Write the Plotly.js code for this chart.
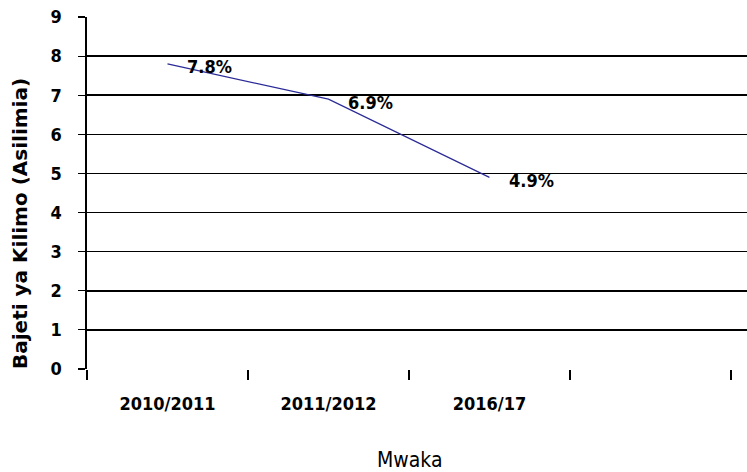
<!DOCTYPE html>
<html>
<head>
<meta charset="utf-8">
<script src="https://cdn.plot.ly/plotly-3.0.1.min.js"></script>
<style>html,body{margin:0;padding:0;background:#fff;}#chart{width:747px;height:472px;}</style>
</head>
<body>
<div id="chart"></div>
<script>
var categories = ["2010/2011", "2011/2012", "2016/17", " "];
var years = ["2010/2011", "2011/2012", "2016/17"];
var budgetShare = [7.8, 6.9, 4.9];
var pointLabels = ["7.8%", "6.9%", "4.9%"];
var yTicks = [0, 1, 2, 3, 4, 5, 6, 7, 8, 9];
var xTitle = "Mwaka";
var yTitle = "Bajeti ya Kilimo (Asilimia)";

var FONT = "DejaVu Sans Condensed, DejaVu Sans, sans-serif";
var WIDE = "DejaVu Sans, sans-serif";

var trace = {
  x: years,
  y: budgetShare,
  type: "scatter",
  mode: "lines",
  line: {color: "#2a2a96", width: 1.2},
  hoverinfo: "skip",
  showlegend: false
};

var annotations = years.map(function (yr, i) {
  return {
    x: yr, y: budgetShare[i], xref: "x", yref: "y",
    text: "<b>" + pointLabels[i] + "</b>",
    showarrow: false, xanchor: "left", yanchor: "middle",
    xshift: 18, yshift: -3,
    font: {family: FONT, size: 18, color: "#000"}
  };
});

annotations.push({
  xref: "paper", yref: "paper", x: 0, y: 0.412, xshift: -67,
  text: "<b>" + yTitle + "</b>", textangle: -90,
  showarrow: false, xanchor: "center", yanchor: "middle",
  font: {family: WIDE, size: 20, color: "#000"}
});
annotations.push({
  xref: "paper", yref: "paper", x: 0.489, y: 0, yshift: -91,
  text: xTitle,
  showarrow: false, xanchor: "center", yanchor: "middle",
  font: {family: FONT, size: 21, color: "#000"}
});

var layout = {
  width: 747, height: 472,
  margin: {l: 87, r: 0, t: 17, b: 103},
  paper_bgcolor: "#fff", plot_bgcolor: "#fff",
  font: {family: FONT, color: "#000"},
  xaxis: {
    type: "category",
    categoryorder: "array",
    categoryarray: categories,
    range: [-0.5, 3.6],
    tickson: "boundaries",
    ticks: "outside", ticklen: 10, tickwidth: 1.2, tickcolor: "#000",
    ticklabelstandoff: 22,
    showgrid: false, zeroline: false, showline: false,
    tickfont: {family: FONT, size: 18, color: "#000", weight: "bold"}
  },
  yaxis: {
    range: [0, 9],
    tickvals: yTicks,
    ticks: "outside", ticklen: 7, tickwidth: 1.2, tickcolor: "#000",
    ticklabelstandoff: 13,
    showgrid: true, gridcolor: "#000", gridwidth: 1.6,
    zeroline: false,
    showline: true, linecolor: "#000", linewidth: 1.6,
    tickfont: {family: FONT, size: 18, color: "#000", weight: "bold"}
  },
  annotations: annotations
};

Plotly.newPlot("chart", [trace], layout, {displayModeBar: false, staticPlot: true});
</script>
</body>
</html>
